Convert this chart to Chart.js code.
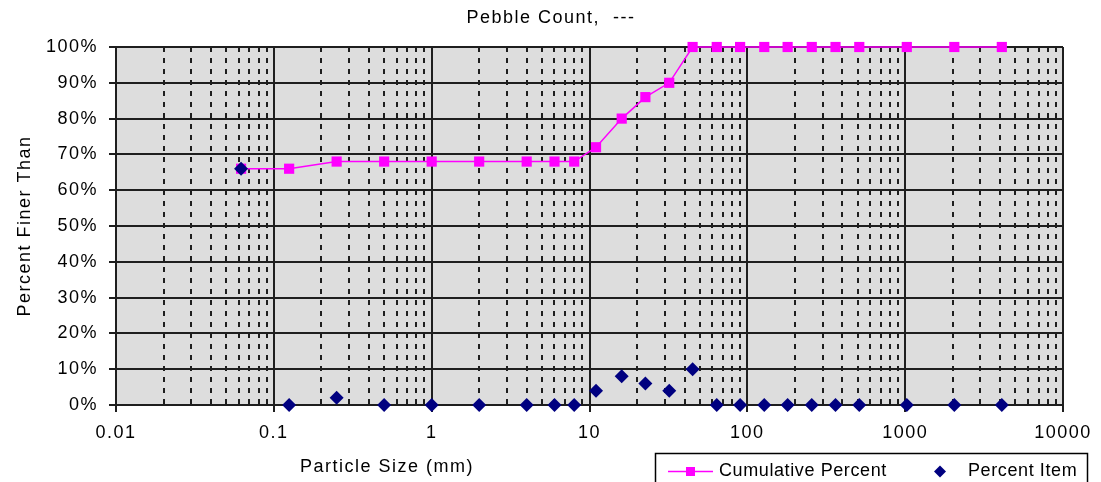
<!DOCTYPE html>
<html>
<head>
<meta charset="utf-8">
<script src="https://cdn.jsdelivr.net/npm/chart.js@4"></script>
<style>
  html, body { margin: 0; padding: 0; background: #fff; }
</style>
</head>
<body>
<canvas id="pebble" width="1101" height="482"></canvas>
<script>
// particle sizes (mm) and the two series
const sizes = [0.062, 0.125, 0.25, 0.5, 1, 2, 4, 6, 8, 11, 16, 22.6, 32, 45, 64, 90, 128, 180, 256, 362, 512, 1024, 2048, 4096];
const cumulative = [66, 66, 68, 68, 68, 68, 68, 68, 68, 72, 80, 86, 90, 100, 100, 100, 100, 100, 100, 100, 100, 100, 100, 100];
const percentItem = [66, 0, 2, 0, 0, 0, 0, 0, 0, 4, 8, 6, 4, 10, 0, 0, 0, 0, 0, 0, 0, 0, 0, 0];

const decades = [0.01, 0.1, 1, 10, 100, 1000, 10000];
const decadeLabels = ['0.01', '0.1', '1', '10', '100', '1000', '10000'];
const minorSteps = [2, 3, 4, 5, 6, 7, 8, 9];

const FONT = '"Liberation Sans", Arial, sans-serif';
const GRID = '#1e1e1e';

function isMajor(c) {
  return c.tick && decades.indexOf(c.tick.value) >= 0;
}

function drawDiamond(ctx, x, y, r) {
  ctx.beginPath();
  ctx.moveTo(x, y - r);
  ctx.lineTo(x + r, y);
  ctx.lineTo(x, y + r);
  ctx.lineTo(x - r, y);
  ctx.closePath();
  ctx.fill();
}

const paper = {
  id: 'paper',
  beforeDraw(chart) {
    const {ctx, chartArea: a} = chart;
    ctx.letterSpacing = '1.5px';
    ctx.save();
    ctx.fillStyle = '#dddddd';
    ctx.fillRect(a.left, a.top, a.right - a.left, a.bottom - a.top);
    ctx.restore();
  },
  afterDraw(chart) {
    const ctx = chart.ctx;
    ctx.save();
    ctx.fillStyle = '#000';
    ctx.font = '18px ' + FONT;
    ctx.textAlign = 'center';
    ctx.textBaseline = 'middle';
    ctx.fillText('Pebble Count,  ---', 551, 18);
    ctx.fillText('Particle Size (mm)', 387, 467);

    // legend box
    ctx.strokeStyle = '#000';
    ctx.lineWidth = 1.5;
    ctx.strokeRect(655.5, 453.5, 432, 40);
    ctx.strokeStyle = '#ff00ff';
    ctx.lineWidth = 1.5;
    ctx.beginPath();
    ctx.moveTo(668, 471.5);
    ctx.lineTo(713, 471.5);
    ctx.stroke();
    ctx.fillStyle = '#ff00ff';
    ctx.fillRect(686, 467, 9, 9);
    ctx.fillStyle = '#000080';
    drawDiamond(ctx, 940, 471.5, 6);

    ctx.letterSpacing = '0.6px';
    ctx.fillStyle = '#000';
    ctx.textAlign = 'left';
    ctx.fillText('Cumulative Percent', 719, 471);
    ctx.fillText('Percent Item', 968, 471);
    ctx.restore();
  }
};

new Chart(document.getElementById('pebble'), {
  type: 'scatter',
  data: {
    datasets: [{
      label: 'Percent Item',
      data: sizes.map((s, i) => ({x: s, y: percentItem[i]})),
      showLine: false,
      pointStyle: 'rectRot',
      pointRadius: 7,
      backgroundColor: '#000080',
      borderColor: '#000080',
      borderWidth: 0,
      clip: false,
      order: 0
    }, {
      label: 'Cumulative Percent',
      data: sizes.map((s, i) => ({x: s, y: cumulative[i]})),
      showLine: true,
      borderColor: '#ff00ff',
      borderWidth: 1.5,
      pointStyle: 'rect',
      pointRadius: 7.2,
      backgroundColor: '#ff00ff',
      pointBorderWidth: 0,
      clip: false,
      order: 1
    }]
  },
  options: {
    responsive: false,
    animation: false,
    layout: { padding: { top: 47, right: 38, left: 0, bottom: 0 } },
    plugins: {
      legend: { display: false },
      tooltip: { enabled: false }
    },
    scales: {
      x: {
        type: 'logarithmic',
        min: 0.01,
        max: 10000,
        afterBuildTicks(scale) {
          const list = [];
          decades.forEach((d, i) => {
            list.push({value: d});
            if (i < decades.length - 1) {
              minorSteps.forEach(m => list.push({value: +(d * m).toPrecision(3)}));
            }
          });
          scale.ticks = list;
        },
        afterFit(scale) { scale.height = 77; },
        ticks: {
          autoSkip: false,
          maxRotation: 0,
          padding: 10,
          color: '#000',
          font: { size: 18, family: FONT },
          callback(value) {
            const k = decades.indexOf(value);
            return k >= 0 ? decadeLabels[k] : '';
          }
        },
        grid: {
          color: GRID,
          lineWidth: 2,
          tickLength: 7,
          tickWidth: 2,
          tickColor: c => isMajor(c) ? GRID : 'rgba(0,0,0,0)'
        },
        border: {
          color: GRID,
          width: 2,
          dash: c => (c.tick && !isMajor(c)) ? [5, 6] : []
        }
      },
      y: {
        min: 0,
        max: 100,
        afterFit(scale) { scale.width = 116; },
        ticks: {
          stepSize: 10,
          padding: 11,
          color: '#000',
          font: { size: 18, family: FONT },
          callback: v => v + '%'
        },
        grid: { color: GRID, lineWidth: 2, tickLength: 7, tickWidth: 2 },
        border: { color: GRID, width: 2 },
        title: {
          display: true,
          text: 'Percent Finer Than',
          color: '#000',
          font: { size: 18, family: FONT },
          padding: { top: 14, bottom: 0 }
        }
      }
    }
  },
  plugins: [paper]
});
</script>
</body>
</html>
